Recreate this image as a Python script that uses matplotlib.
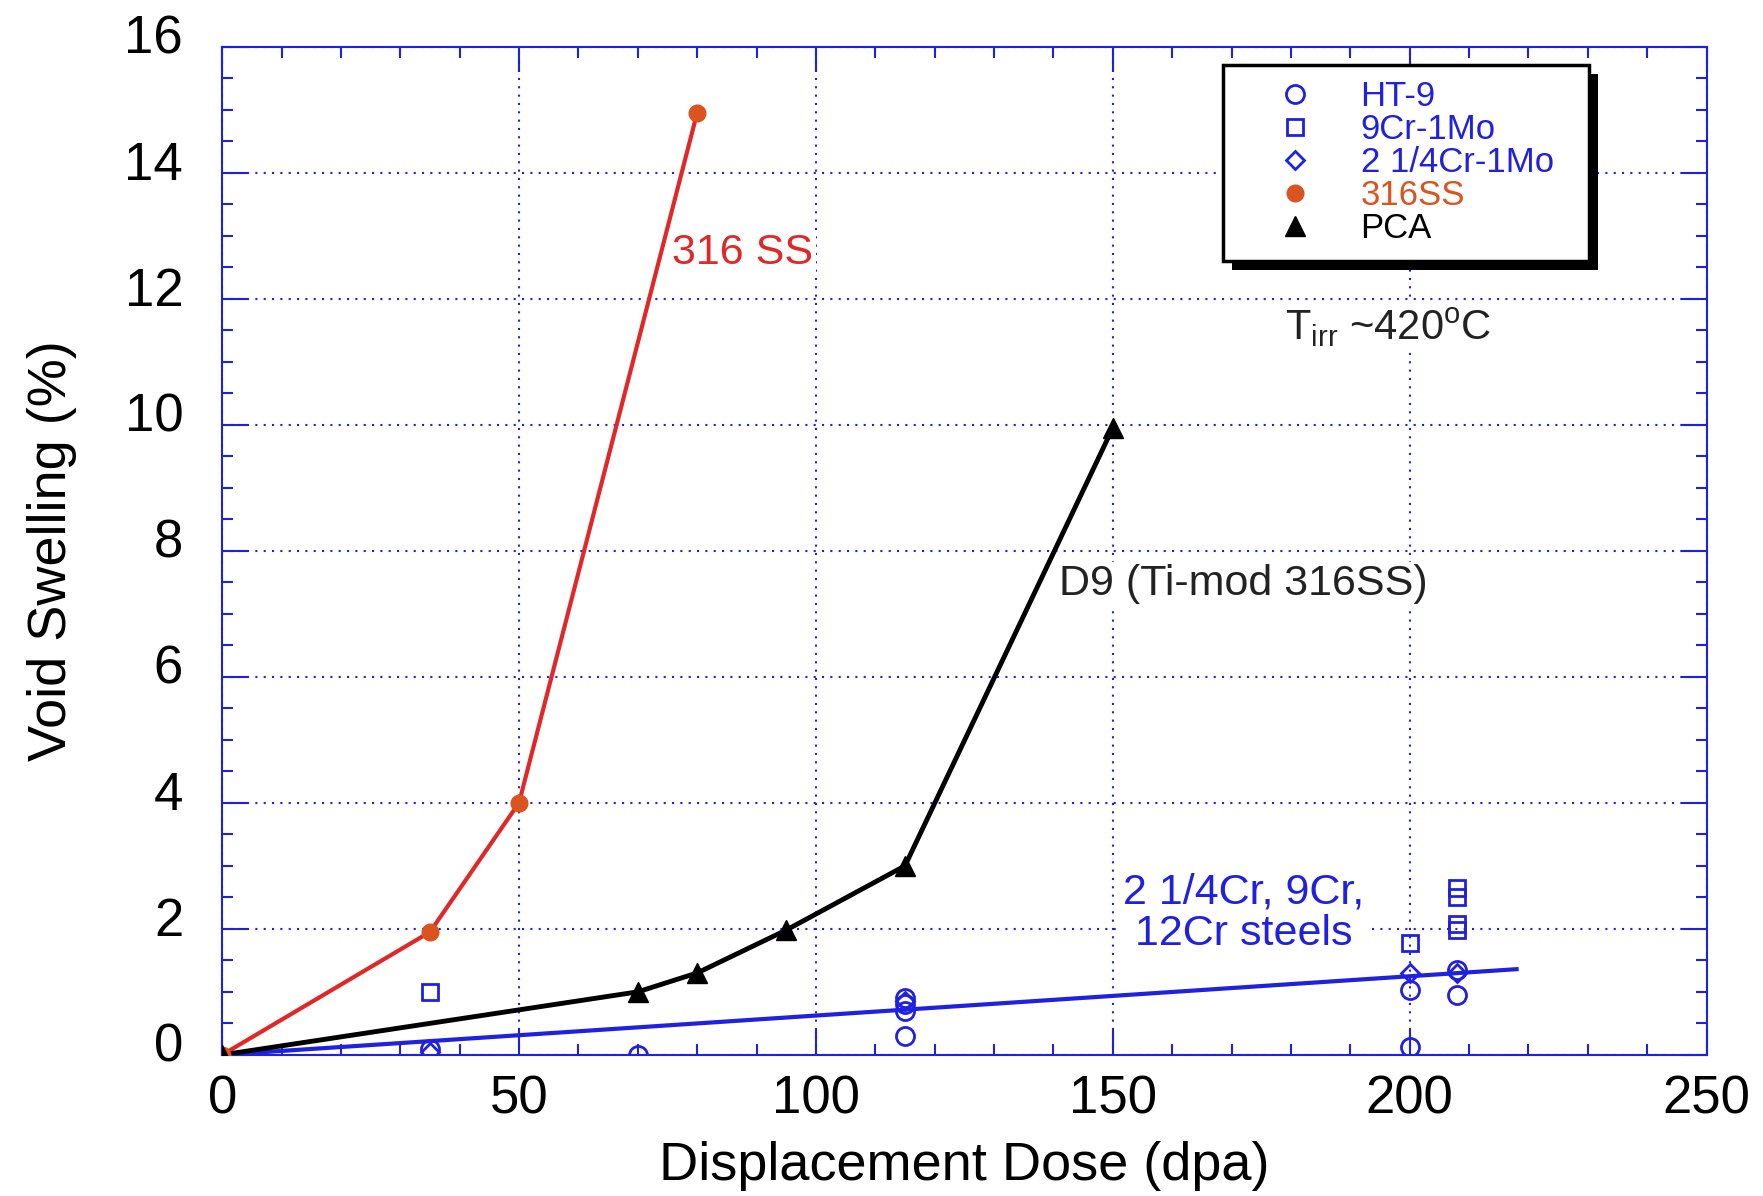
import matplotlib
matplotlib.use("Agg")
import matplotlib.pyplot as plt
from matplotlib.patches import Rectangle
from matplotlib.transforms import IdentityTransform, ScaledTranslation

plt.rcParams['font.family'] = ['Liberation Sans', 'DejaVu Sans']

# 316SS (red line, orange dots)
ss316_x = [0, 35, 50, 80]
ss316_y = [0, 1.95, 4.0, 14.95]
# PCA / D9 (black triangles)
pca_x = [0, 70, 80, 95, 115, 150]
pca_y = [0, 1.0, 1.3, 1.98, 3.0, 9.95]
# ferritic steels trend line
trend_x = [0, 218]
trend_y = [0, 1.36]
# HT-9 (open circles)
ht9_x = [35, 70, 115, 115, 115, 115, 200, 200, 208, 208]
ht9_y = [0.1, 0.0, 0.9, 0.8, 0.7, 0.3, 1.03, 0.12, 1.35, 0.95]
# 9Cr-1Mo (open squares)
cr9_x = [35, 200, 208, 208, 208, 208]
cr9_y = [1.0, 1.78, 1.98, 2.08, 2.5, 2.65]
# 2 1/4Cr-1Mo (open diamonds)
cr2_x = [35, 115, 200, 208]
cr2_y = [0.05, 0.85, 1.3, 1.3]

blue = '#2020e0'
red = '#e02828'
orange = '#d9541e'

fig = plt.figure(figsize=(17.63, 11.96), dpi=100)
ax = fig.add_axes([0.126, 0.118, 0.842, 0.843])

ax.plot(trend_x, trend_y, color=blue, lw=3, zorder=3)
ax.plot(ss316_x, ss316_y, color=red, lw=3, zorder=3)
ax.plot(ss316_x, ss316_y, 'o', color=orange, ms=12, zorder=4, label='316SS')
ax.plot(pca_x, pca_y, color='black', lw=3.5, zorder=3)
ax.plot(pca_x, pca_y, '^', color='black', ms=14, zorder=4, label='PCA')
ax.plot(ht9_x, ht9_y, 'o', mfc='none', mec=blue, mew=2, ms=13, zorder=4, label='HT-9')
ax.plot(cr9_x, cr9_y, 's', mfc='none', mec=blue, mew=2, ms=12, zorder=4, label='9Cr-1Mo')
ax.plot(cr2_x, cr2_y, 'D', mfc='none', mec=blue, mew=2, ms=9, zorder=4, label='2 1/4Cr-1Mo')

ax.set_xlim(0, 250)
ax.set_ylim(0, 16)
ax.set_xticks([0, 50, 100, 150, 200, 250])
ax.set_yticks([0, 2, 4, 6, 8, 10, 12, 14, 16])
ax.set_xticks(range(0, 251, 10), minor=True)
ax.set_yticks([i * 0.5 for i in range(33)], minor=True)
ax.grid(True, which='major', color=blue, linestyle=(0, (1, 3)), lw=1.5)
for s in ax.spines.values():
    s.set_color(blue)
    s.set_linewidth(1.5)
ax.tick_params(which='both', direction='in', top=True, right=True, color=blue, width=1.5)
ax.tick_params(which='major', length=18, labelsize=38)
ax.tick_params(which='minor', length=8)
ax.tick_params(axis='y', pad=28)
ax.tick_params(axis='x', pad=14)
# y tick labels sit a little above their ticks in the original
for lab in ax.get_yticklabels():
    lab.set_transform(lab.get_transform() + ScaledTranslation(0, 9 / 72, fig.dpi_scale_trans))
ax.set_xlabel('Displacement Dose (dpa)', fontsize=39, labelpad=12)
ax.set_ylabel('Void Swelling (%)', fontsize=39, labelpad=34)

bb = dict(facecolor='white', edgecolor='none', pad=2)
ax.text(87.7, 12.72, '316 SS', color=red, fontsize=31, ha='center', va='center', bbox=bb, zorder=2)
ax.text(141, 7.47, 'D9 (Ti-mod 316SS)', color='#222222', fontsize=31, ha='left', va='center', bbox=bb, zorder=2)
ax.text(172, 2.25, '2 1/4Cr, 9Cr,\n12Cr steels', color=blue, fontsize=31, ha='center', va='center',
        linespacing=1.05, bbox=bb, zorder=2)
ax.text(179, 11.55, r'T$_{\mathregular{irr}}$ ~420$^{\mathregular{o}}$C', color='#222222', fontsize=30,
        ha='left', va='center', bbox=bb, zorder=2)

h, l = ax.get_legend_handles_labels()
order = ['HT-9', '9Cr-1Mo', '2 1/4Cr-1Mo', '316SS', 'PCA']
hs = [h[l.index(o)] for o in order]
leg = ax.legend(hs, order, loc='upper left', bbox_to_anchor=(0.6745, 0.982, 0.246, 0.0),
                mode='expand', borderaxespad=0, fontsize=25, labelspacing=0, handlelength=3.2,
                handletextpad=0.3, borderpad=0.45, fancybox=False, framealpha=1,
                edgecolor='black', labelcolor=[blue, blue, blue, orange, 'black'])
leg.get_frame().set_linewidth(2.5)
leg.set_zorder(6)

fig.canvas.draw()
lb = leg.get_window_extent()
shadow = Rectangle((lb.x0 + 9, lb.y0 - 9), lb.width, lb.height, transform=IdentityTransform(),
                   facecolor='black', edgecolor='none', zorder=5.5)
ax.add_artist(shadow)

fig.savefig('out.png', dpi=100, facecolor='white')
